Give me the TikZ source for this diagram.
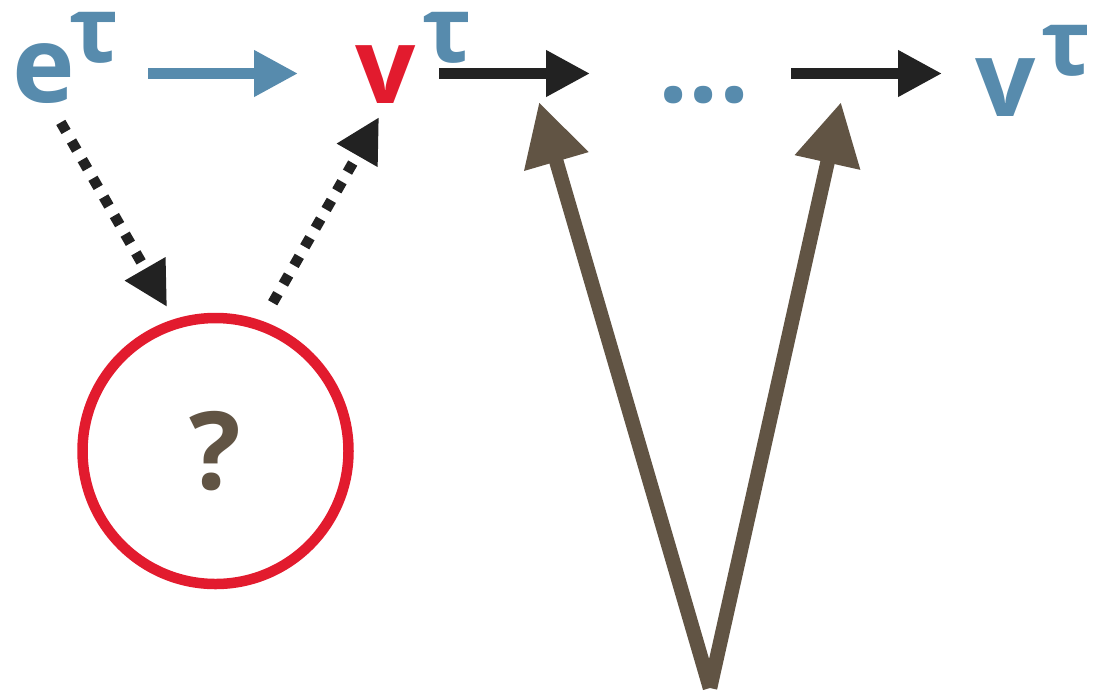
\documentclass[tikz,border=0pt]{standalone}
\usepackage{fontspec}
\setmainfont{Open Sans}
\usepackage{tikz}
\usetikzlibrary{arrows.meta, calc}
\definecolor{SteelBlue}{RGB}{87,139,173}
\definecolor{SignalRed}{RGB}{226,27,46}
\definecolor{InkBlack}{RGB}{34,34,34}
\definecolor{Umber}{RGB}{97,84,68}

\begin{document}
\begin{tikzpicture}[x=1pt, y=-1pt,
  sym/.style={inner sep=0pt, text=SteelBlue,
              font=\fontsize{106pt}{106pt}\selectfont\bfseries},
  supsym/.style={inner sep=0pt, text=SteelBlue,
                 font=\fontsize{92pt}{92pt}\selectfont\bfseries},
  flow/.style={line width=10.5pt, -{Triangle[length=44pt, width=44pt]}},
  hint/.style={flow, InkBlack, dash pattern=on 10.5pt off 11pt},
  feed/.style={line width=14.5pt, Umber, -{Triangle[length=62pt, width=63pt]}},
]
\path[use as bounding box] (0,0) rectangle (1099,697);

\node[sym] (e) at (44,73.5) {e};
\node[supsym] (etau) at (94,37.5) {τ};
\node[sym, text=SignalRed] (v) at (386,74.5) {v};
\node[supsym] (vtau) at (447,37.5) {τ};
\node[sym] (dots) at (704,95) {...};
\node[sym] (vend) at (1005.5,87.5) {v};
\node[supsym] (vendtau) at (1066,50.5) {τ};

\node[circle, draw=SignalRed, line width=10.5pt, minimum size=266pt,
      inner sep=0pt, text=Umber,
      font=\fontsize{108pt}{108pt}\selectfont\bfseries] (q) at (215.5,451) {?};

\draw[flow, SteelBlue, shorten <=104pt, shorten >=88pt] (e.center) -- (e.center -| v.center);
\draw[flow, InkBlack, shorten <=53pt, shorten >=114pt]
  (e.center -| v.center) -- (e.center -| dots.center);
\draw[flow, InkBlack, shorten <=87pt, shorten >=63.5pt]
  (e.center -| dots.center) -- (e.center -| vend.center);

\draw[hint] ([xshift=16.8pt, yshift=-18.7pt]e.south) -- ($(q)+(108.6:152pt)$);
\draw[hint] ($(q)+(68.9:158.9pt)$) -- ([xshift=-7pt, yshift=-13.5pt]v.south);

\coordinate (root) at (710,688);
\coordinate (in1) at (539,102);
\coordinate (in2) at (841,102);
\draw[feed] (root) -- (in1);
\draw[feed] (root) -- (in2);
\end{tikzpicture}
\end{document}
